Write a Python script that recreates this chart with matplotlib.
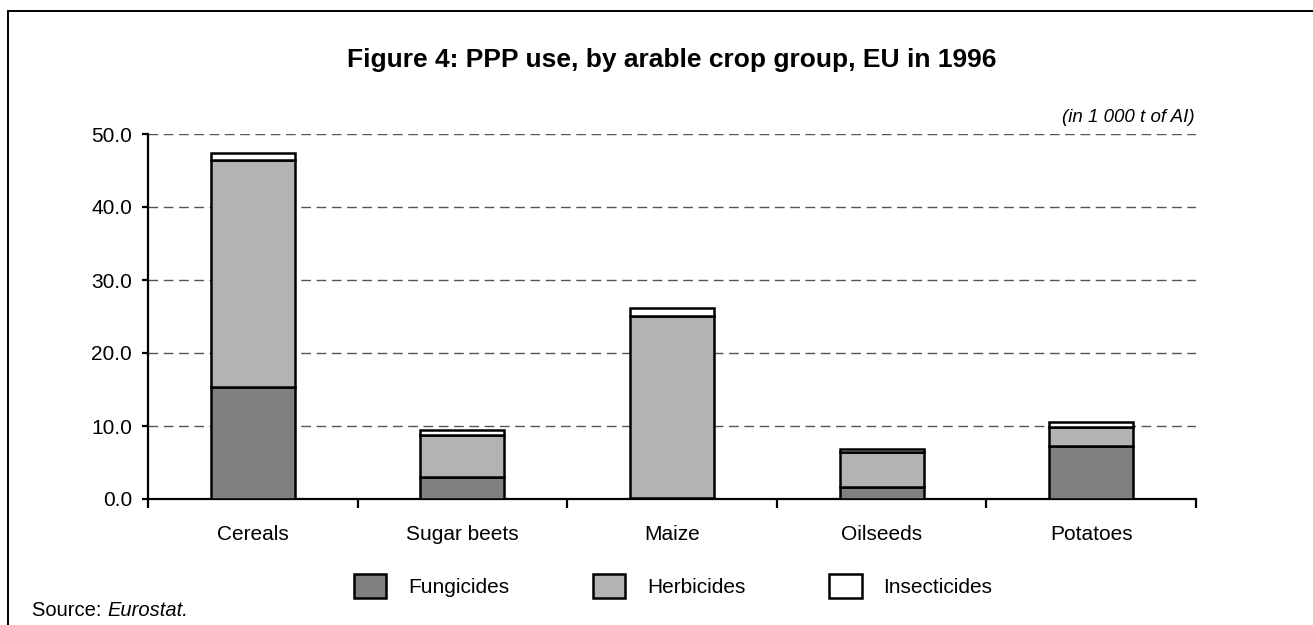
import matplotlib
matplotlib.use("Agg")
import matplotlib.pyplot as plt
from matplotlib.lines import Line2D
import numpy as np

plt.rcParams['font.family'] = ['Liberation Sans', 'DejaVu Sans']

# Data (in 1 000 t of active ingredient)
crops = ["Cereals", "Sugar beets", "Maize", "Oilseeds", "Potatoes"]
fungicides = [15.3, 3.0, 0.1, 1.6, 7.2]
herbicides = [31.1, 5.8, 25.0, 4.9, 2.6]
insecticides = [1.0, 0.7, 1.1, 0.3, 0.7]
y_ticks = [0, 10, 20, 30, 40, 50]

series = [("Fungicides", fungicides, "#808080"),
          ("Herbicides", herbicides, "#b3b3b3"),
          ("Insecticides", insecticides, "#ffffff")]

W, H = 1313, 625
fig = plt.figure(figsize=(W / 100, H / 100), dpi=100)
ax = fig.add_axes([148 / W, 1 - 499 / H, (1196 - 148) / W, (499 - 134) / H])

x = np.arange(len(crops))
bottom = np.zeros(len(crops))
for name, vals, col in series:
    ax.bar(x, vals, width=0.4, bottom=bottom, color=col, edgecolor="black",
           linewidth=1.8, label=name, zorder=3)
    bottom += np.array(vals)

ax.set_xlim(-0.5, len(crops) - 0.5)
ax.set_ylim(0, 50)
ax.set_yticks(y_ticks)
ax.set_yticklabels([f"{v:.1f}" for v in y_ticks])
ax.set_xticks(x)
ax.set_xticklabels(crops)
ax.set_xticks(np.arange(-0.5, len(crops)), minor=True)
ax.tick_params(axis="x", which="major", length=0, pad=19, labelsize=15)
ax.tick_params(axis="x", which="minor", length=6.5, width=1.6, direction="out")
ax.tick_params(axis="y", length=4.5, width=1.6, pad=7, labelsize=15)

for s in ["top", "right"]:
    ax.spines[s].set_visible(False)
for s in ["left", "bottom"]:
    ax.spines[s].set_linewidth(1.6)

for v in y_ticks[1:]:
    ax.axhline(v, color="#555555", linewidth=1, dashes=(7, 4), zorder=1)

fig.text(672 / W, 1 - 60 / H, "Figure 4: PPP use, by arable crop group, EU in 1996",
         ha="center", va="center", fontsize=19, fontweight="bold")
fig.text(1195 / W, 1 - 118 / H, "(in 1 000 t of AI)", ha="right", va="center",
         fontsize=13.5, style="italic")

src = fig.text(32 / W, 1 - 610 / H, "Source: ", ha="left", va="center", fontsize=14.5)
fig.canvas.draw()
bb = src.get_window_extent()
fig.text(bb.x1 / W, 1 - 610 / H, "Eurostat.", ha="left", va="center",
         fontsize=14.5, style="italic")

fig.legend(loc="center", bbox_to_anchor=(673 / W, 1 - 586 / H), ncol=3,
           frameon=False, fontsize=15, handlelength=1.57, handleheight=1.4,
           handletextpad=1.05, columnspacing=4.0)

# outer frame (left and top edges)
fig.add_artist(Line2D([8 / W, 8 / W], [0, 1 - 11 / H], color="black", linewidth=1.4,
                      transform=fig.transFigure))
fig.add_artist(Line2D([8 / W, 1], [1 - 11 / H, 1 - 11 / H], color="black", linewidth=1.4,
                      transform=fig.transFigure))

fig.savefig("out.png", dpi=100)
